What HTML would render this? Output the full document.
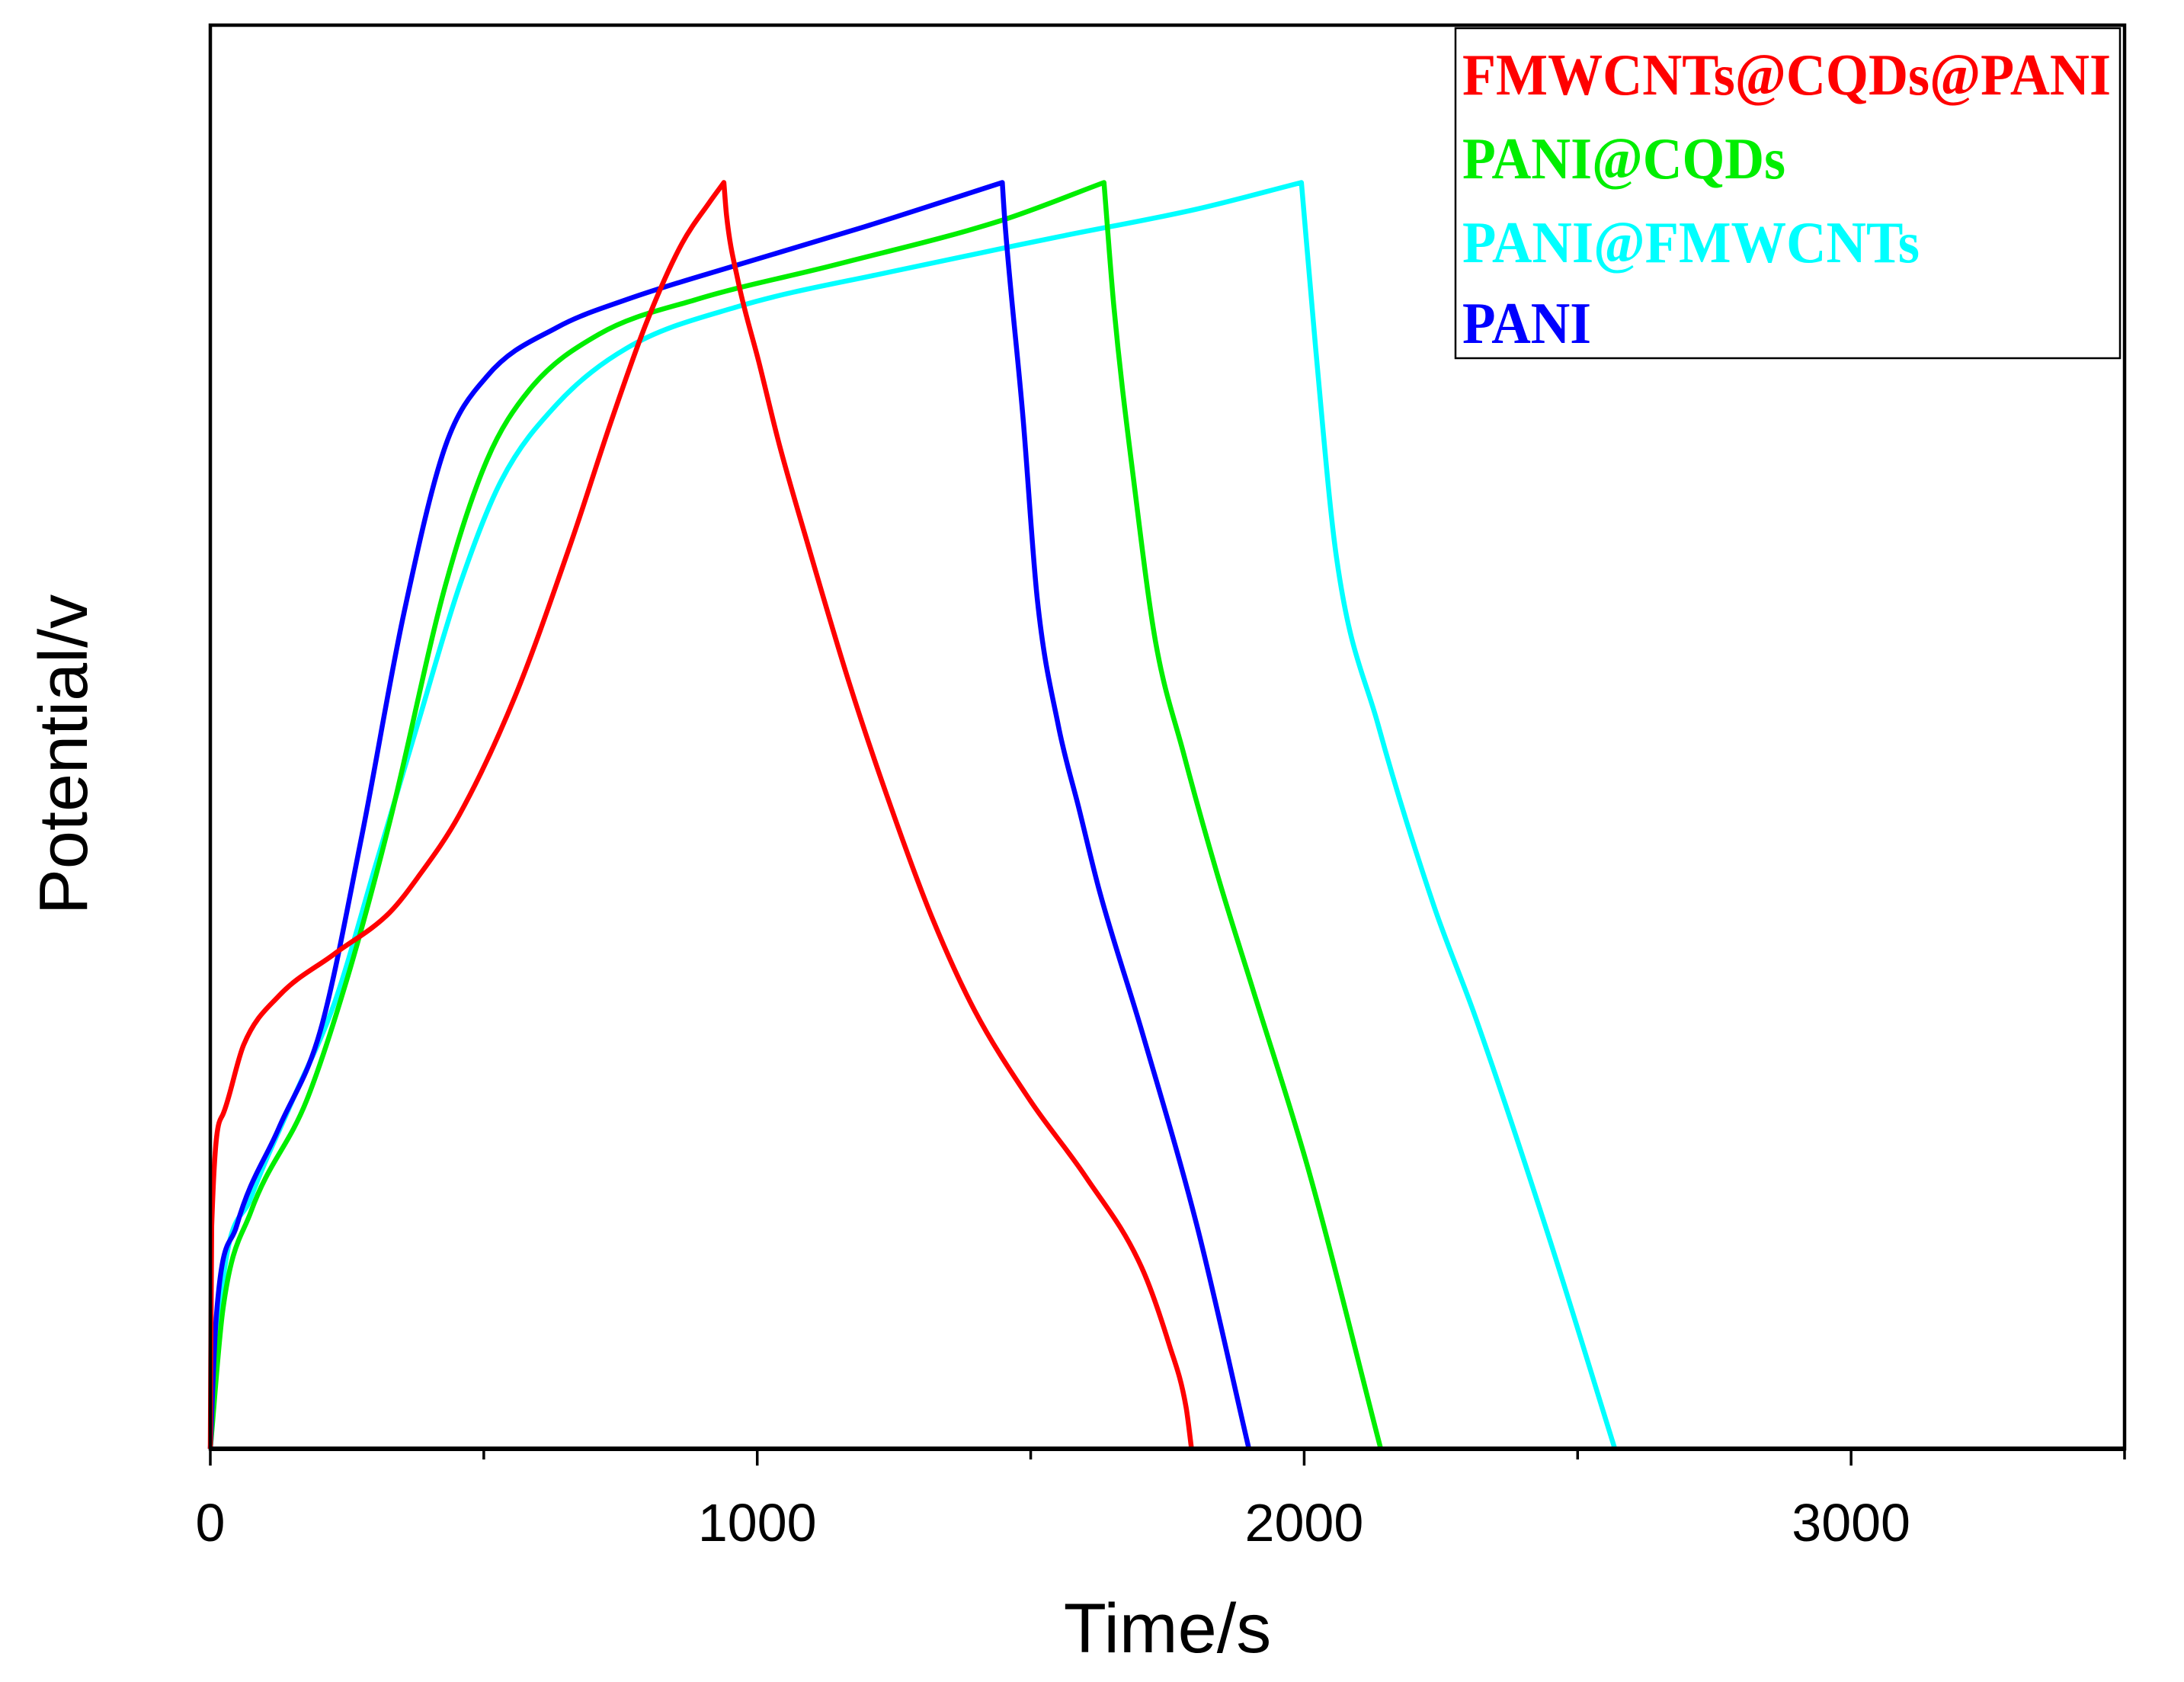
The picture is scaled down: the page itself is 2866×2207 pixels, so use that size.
<!DOCTYPE html>
<html><head><meta charset="utf-8"><style>html,body{margin:0;padding:0;background:#fff}svg{display:block}</style></head>
<body>
<svg id="chart" width="2866" height="2207" xmlns="http://www.w3.org/2000/svg">
<rect width="2866" height="2207" fill="#fff"/>
<g id="series"></g>
<g id="axes"></g>
<rect x="1910" y="37" width="872" height="433" fill="none" stroke="#000" stroke-width="2.5"/>
<text x="1919" y="124" font-family="Liberation Serif, serif" font-weight="bold" font-size="77" fill="#ff0000" textLength="851" lengthAdjust="spacingAndGlyphs">FMWCNTs@CQDs@PANI</text>
<text x="1919" y="234" font-family="Liberation Serif, serif" font-weight="bold" font-size="77" fill="#00ee00" textLength="424" lengthAdjust="spacingAndGlyphs">PANI@CQDs</text>
<text x="1919" y="344" font-family="Liberation Serif, serif" font-weight="bold" font-size="77" fill="#00ffff" textLength="600" lengthAdjust="spacingAndGlyphs">PANI@FMWCNTs</text>
<text x="1919" y="450" font-family="Liberation Serif, serif" font-weight="bold" font-size="77" fill="#0000ff" textLength="169" lengthAdjust="spacingAndGlyphs">PANI</text>
<text x="1532" y="2168" text-anchor="middle" font-family="Liberation Sans, sans-serif" font-size="92">Time/s</text>
<text transform="translate(114,990) rotate(-90)" text-anchor="middle" font-family="Liberation Sans, sans-serif" font-size="90">Potential/v</text>
</svg>
<script>
const redT=[0,2.5,23,61,125,226,328,379,455,557,659,735,799,862,913,939,944,964,1003,1041,1092,1168,1245,1321,1397,1499,1601,1703,1753,1784,1794];
const redV=[0,.16,.24,.29,.325,.355,.385,.41,.455,.54,.65,.74,.81,.865,.895,.909,.885,.84,.78,.72,.65,.55,.46,.38,.315,.25,.195,.13,.075,.03,0];
const blueT=[0,10,48,125,201,277,354,430,506,634,761,965,1194,1448,1453,1486,1512,1550,1588,1626,1703,1804,1899];
const blueV=[0,.09,.16,.23,.30,.44,.60,.72,.77,.805,.825,.85,.877,.909,.88,.74,.61,.52,.46,.40,.30,.16,0];
const greenT=[0,23,74,176,252,328,430,506,583,710,888,1143,1448,1634,1652,1690,1728,1779,1843,1906,2008,2140];
const greenV=[0,.10,.17,.25,.34,.45,.62,.71,.76,.80,.825,.85,.882,.909,.82,.69,.58,.50,.41,.33,.20,0];
const cyanT=[0,23,74,150,227,303,379,456,532,634,761,965,1245,1550,1804,1995,2021,2059,2135,2237,2313,2441,2568];
const cyanV=[0,.12,.18,.25,.32,.42,.52,.62,.695,.75,.79,.82,.845,.87,.89,.909,.79,.64,.52,.39,.31,.16,0];
const xTicks=[0,500,1000,1500,2000,2500,3000,3500];
const xTickLabels=["0","","1000","","2000","","3000",""];
const L=276,R=2788,T=33,B=1901,XMAX=3500,YMAX=1.022;
function X(t){return L+t/XMAX*(R-L);}
function Y(v){return B-v/YMAX*(B-T);}
const NS="http://www.w3.org/2000/svg";
const sg=document.getElementById('series');
function monoPath(px,py){
  const n=px.length;if(n<2)return '';
  const d=[],m=new Array(n);
  for(let i=0;i<n-1;i++){const dx=px[i+1]-px[i];d.push(dx===0?0:(py[i+1]-py[i])/dx);}
  m[0]=d[0];m[n-1]=d[n-2];
  for(let i=1;i<n-1;i++){m[i]=(d[i-1]*d[i]<=0)?0:(d[i-1]+d[i])/2;}
  for(let i=0;i<n-1;i++){if(d[i]===0){m[i]=0;m[i+1]=0;continue;}const a=m[i]/d[i],b=m[i+1]/d[i];const s=a*a+b*b;if(s>9){const tt=3/Math.sqrt(s);m[i]=tt*a*d[i];m[i+1]=tt*b*d[i];}}
  let s='';
  for(let i=0;i<n-1;i++){const h=(px[i+1]-px[i])/3;s+=' C'+(px[i]+h).toFixed(1)+','+(py[i]+m[i]*h).toFixed(1)+' '+(px[i+1]-h).toFixed(1)+','+(py[i+1]-m[i+1]*h).toFixed(1)+' '+px[i+1].toFixed(1)+','+py[i+1].toFixed(1);}
  return s;
}
function draw(ts,vs,color,name){
  let k=vs.indexOf(Math.max(...vs));
  const xs=ts.map(X),ys=vs.map(Y);
  let dstr='M'+xs[0].toFixed(1)+','+ys[0].toFixed(1)+monoPath(xs.slice(0,k+1),ys.slice(0,k+1))+monoPath(xs.slice(k),ys.slice(k));
  const p=document.createElementNS(NS,'path');
  p.setAttribute('d',dstr);
  p.setAttribute('fill','none');p.setAttribute('stroke',color);p.setAttribute('stroke-width','6.5');p.setAttribute('stroke-linejoin','round');
  
  
  sg.appendChild(p);
}
draw(cyanT,cyanV,'#00ffff','series-pani-fmwcnts');
draw(greenT,greenV,'#00ee00','series-pani-cqds');
draw(blueT,blueV,'#0000ff','series-pani');
draw(redT,redV,'#ff0000','series-fmwcnts-cqds-pani');
const ax=document.getElementById('axes');
const frame=document.createElementNS(NS,'rect');
frame.setAttribute('x',L);frame.setAttribute('y',T);frame.setAttribute('width',R-L);frame.setAttribute('height',B-T);
frame.setAttribute('fill','none');frame.setAttribute('stroke','#000');frame.setAttribute('stroke-width','4.5');


ax.appendChild(frame);
const xl=document.createElementNS(NS,'line');
xl.setAttribute('x1',L);xl.setAttribute('x2',R);xl.setAttribute('y1',B);xl.setAttribute('y2',B);
xl.setAttribute('stroke','#000');xl.setAttribute('stroke-width','6');


ax.appendChild(xl);
xTicks.forEach((t,i)=>{
  const ln=document.createElementNS(NS,'line');
  ln.setAttribute('x1',X(t));ln.setAttribute('x2',X(t));ln.setAttribute('y1',B);ln.setAttribute('y2',B+(i%2===0?22:14));
  ln.setAttribute('stroke','#000');ln.setAttribute('stroke-width','3.5');
  
  
  ax.appendChild(ln);
  if(xTickLabels[i]){
    const tx=document.createElementNS(NS,'text');
    tx.setAttribute('x',X(t));tx.setAttribute('y',2022);tx.setAttribute('text-anchor','middle');
    tx.setAttribute('font-family','Liberation Sans, sans-serif');tx.setAttribute('font-size','70');
    tx.textContent=xTickLabels[i];
    
    
    ax.appendChild(tx);
  }
});
</script>
</body></html>
